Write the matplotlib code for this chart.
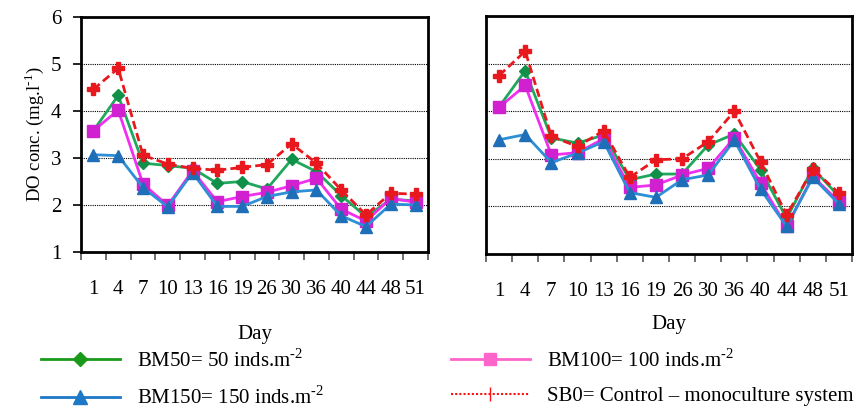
import matplotlib.pyplot as plt
from matplotlib.lines import Line2D
import numpy as np

plt.rcParams['font.family'] = ['Liberation Serif', 'DejaVu Serif']
plt.rcParams['mathtext.fontset'] = 'custom'
plt.rcParams['mathtext.rm'] = 'Liberation Serif'

days = ['1', '4', '7', '10', '13', '16', '19', '26', '30', '36', '40', '44', '48', '51']

# left panel
bm50_a = [3.58, 4.33, 2.89, 2.84, 2.78, 2.46, 2.50, 2.34, 2.97, 2.71, 2.20, 1.75, 2.12, 2.09]
bm100_a = [3.58, 4.02, 2.45, 1.99, 2.73, 2.07, 2.18, 2.27, 2.41, 2.57, 1.91, 1.66, 2.14, 2.06]
bm150_a = [3.07, 3.05, 2.37, 1.96, 2.69, 1.97, 1.97, 2.18, 2.28, 2.32, 1.77, 1.54, 2.02, 2.00]
sb0_a = [4.46, 4.91, 3.06, 2.87, 2.78, 2.74, 2.80, 2.86, 3.30, 2.89, 2.32, 1.79, 2.25, 2.23]

# right panel
bm50_b = [4.09, 4.85, 3.44, 3.33, 3.50, 2.56, 2.68, 2.68, 3.29, 3.52, 2.77, 1.75, 2.80, 2.21]
bm100_b = [4.08, 4.54, 3.08, 3.13, 3.42, 2.40, 2.45, 2.66, 2.80, 3.44, 2.49, 1.58, 2.63, 2.10]
bm150_b = [3.40, 3.51, 2.92, 3.12, 3.36, 2.29, 2.19, 2.56, 2.66, 3.39, 2.36, 1.58, 2.61, 2.05]
sb0_b = [4.75, 5.26, 3.47, 3.26, 3.59, 2.61, 2.98, 3.00, 3.36, 4.00, 2.94, 1.82, 2.78, 2.28]

fig = plt.figure(figsize=(8.61, 4.08), dpi=100)
W, H = 861.0, 408.0
ax1 = fig.add_axes([81 / W, (H - 252) / H, 347 / W, 235 / H])
ax2 = fig.add_axes([486 / W, (H - 254) / H, 366 / W, 238 / H])

x = np.arange(len(days))

def draw(ax, bm50, bm100, bm150, sb0, xpad):
    ax.plot(x, bm50, color='#1fa85c', lw=2, marker='D', ms=6,
            mfc='#109048', mec='#109048', zorder=3)
    ax.plot(x, bm100, color='#f030f0', lw=2, marker='s', ms=9,
            mfc='#d020d0', mec='#d020d0', zorder=4)
    ax.plot(x, bm150, color='#2d8fd5', lw=2, marker='^', ms=9,
            mfc='#1f6fb8', mec='#1f6fb8', zorder=5)
    ax.plot(x, sb0, color='#e8191e', lw=2, ls=(0, (3, 1.5)), marker='P', ms=8,
            mfc='#e8191e', mec='#e8191e', zorder=6)
    ax.set_xlim(-0.5, len(days) - 0.5)
    ax.set_ylim(1, 6)
    ax.set_yticks([1, 2, 3, 4, 5, 6])
    for g in [2, 3, 4, 5]:
        ax.axhline(g, color='black', lw=0.8, ls=(0, (1, 1)), zorder=1)
    ax.set_xticks(np.arange(len(days) + 1) - 0.5)
    ax.set_xticklabels([])
    ax.set_xticks(x, minor=True)
    ax.set_xticklabels(days, minor=True, fontsize=15)
    ax.tick_params(axis='x', which='major', direction='out', length=6, width=1.2, color='#555555')
    ax.tick_params(axis='x', which='minor', length=0, pad=20)
    for s in ax.spines.values():
        s.set_linewidth(2)
    ax.set_xlabel('Day', fontsize=15, labelpad=xpad)

draw(ax1, bm50_a, bm100_a, bm150_a, sb0_a, 19)
draw(ax2, bm50_b, bm100_b, bm150_b, sb0_b, 10)

ax1.set_yticklabels(['1', '2', '3', '4', '5', '6'], fontsize=15)
ax1.tick_params(axis='y', direction='out', length=6, width=1.2, pad=8)
ax1.set_ylabel(r'DO conc. (mg.l$^{\text{-}1}$)', fontsize=13.5, labelpad=4)
ax2.tick_params(axis='y', left=False, labelleft=False)

handles = [
    Line2D([], [], color='#1a9a1a', lw=2, marker='D', ms=7),
    Line2D([], [], color='#1e78c8', lw=2, marker='^', ms=10),
    Line2D([], [], color='#ff66cc', lw=2, marker='s', ms=9),
    Line2D([], [], color='#ff1010', lw=1.5, ls=(0, (1, 1)), marker='|', ms=10, mew=1),
]
labels = [r'BM50= 50 inds.m$^{\text{-}2}$', r'BM150= 150 inds.m$^{\text{-}2}$',
          r'BM100= 100 inds.m$^{\text{-}2}$', 'SB0= Control \u2013 monoculture system']
fig.legend(handles, labels, ncol=2, loc='lower left', bbox_to_anchor=(22 / W, -0.048),
           frameon=False, fontsize=15, handlelength=3.8, handletextpad=0.8,
           columnspacing=6.1, labelspacing=0.7)

fig.savefig('out.png', dpi=100)
